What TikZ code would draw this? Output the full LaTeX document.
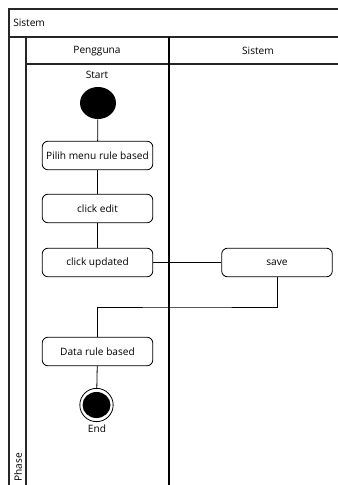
\documentclass[tikz,border=0pt]{standalone}
\usepackage{fontspec}
\setmainfont{Open Sans}
\usetikzlibrary{shapes.geometric}
\begin{document}
\begin{tikzpicture}[x=0.75pt,y=-0.75pt,
  frame/.style={draw=black!85,line width=0.9pt},
  lane/.style={draw=black,line width=1.3pt},
  txt/.style={font=\fontsize{7.6}{9}\selectfont},
  action/.style={txt,draw=black,line width=0.6pt,rounded corners=4.5pt,
    minimum width=83pt,minimum height=21.5pt,inner sep=0pt},
  flow/.style={draw=black,line width=0.6pt},
  lbl/.style={txt,inner sep=0pt}]
\useasboundingbox (0,0) rectangle (338,485);
\fill[white] (0,0) rectangle (338,485);
% pool frame
\draw[frame] (338,9) -- (9,9) -- (9,485);
\draw[frame] (9,37) -- (338,37);
\draw[frame] (26,64) -- (338,64);
\draw[frame] (26,37) -- (26,485);
\draw[lane] (169,37) -- (169,485);
% titles
\node[lbl,anchor=west] (pool) at (13,23) {Sistem};
\node[lbl] (lane1) at (97,51) {Pengguna};
\node[lbl] (lane2) at (258,51) {Sistem};
\node[lbl,rotate=90,anchor=west] (phase) at (18,482) {Phase};
% start / end
\node[lbl] (startlbl) at (97,75) {Start};
\node[fill=black,ellipse,minimum width=27pt,minimum height=24pt,inner sep=0pt] (start) at (98,103) {};
\node[draw=black,line width=0.6pt,ellipse,minimum width=25pt,minimum height=25pt,inner sep=0pt] (endo) at (96.5,405) {};
\node[fill=black,ellipse,minimum width=21pt,minimum height=19.5pt,inner sep=0pt] (end) at (96.5,405) {};
\node[lbl] (endlbl) at (97,429) {End};
% actions
\node[action] (pilih) at (97.5,155.5) {Pilih menu rule based};
\node[action] (edit) at (97.5,208.5) {click edit};
\node[action] (upd) at (97.5,262.5) {click updated};
\node[action] (save) at (277,262.5) {save};
\node[action] (data) at (97.5,351.5) {Data rule based};
\coordinate (turn) at (187,307);
% flows
\draw[flow] (start) -- (pilih);
\draw[flow] (pilih) -- (edit);
\draw[flow] (edit) -- (upd);
\draw[flow] (upd) -- (save);
\draw[flow] (save.south) |- (turn) -| (data.north);
\draw[flow] (data) -- (endo);
\end{tikzpicture}
\end{document}
